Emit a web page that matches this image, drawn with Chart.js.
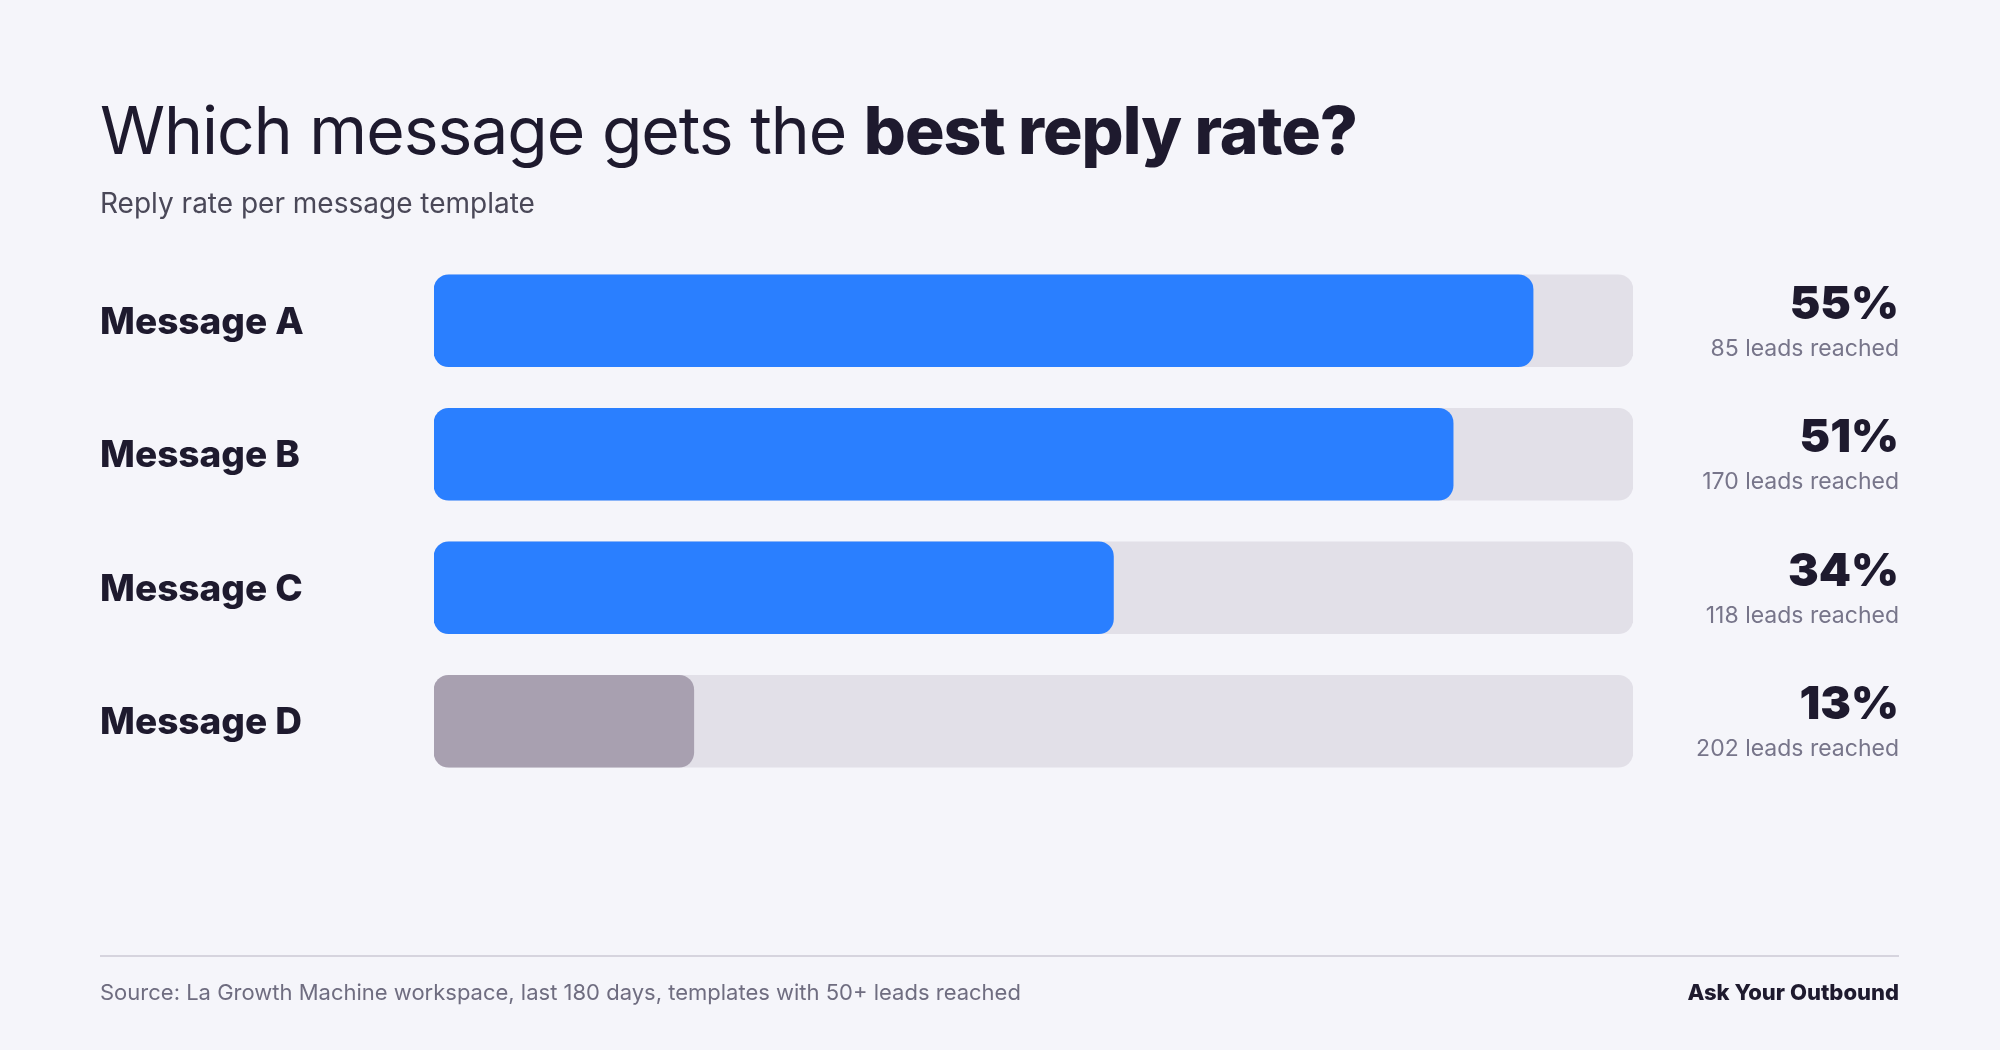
<!DOCTYPE html>
<html><head><meta charset="utf-8">
<script src="https://cdn.jsdelivr.net/npm/chart.js@4"></script>
<style>
html,body{margin:0;padding:0;background:#f5f5fa;width:2000px;height:1050px;overflow:hidden;font-family:Inter,"Noto Sans",sans-serif;color:#1e1a2e}
#wrap{position:absolute;left:0;top:0;width:2000px;height:1050px}
h1{position:absolute;left:100px;top:97px;margin:0;font-size:66px;font-weight:400;letter-spacing:-1px;line-height:1}
h1 b{font-weight:800}
.sub{position:absolute;left:100px;top:186px;font-size:28px;color:#4a4858}
.rule{position:absolute;left:100px;width:1799px;top:955px;height:2px;background:#d6d4de}
.src{position:absolute;left:100px;top:979px;font-size:22px;color:#6f6d80}
.brand{position:absolute;right:101px;top:979px;font-size:22px;font-weight:800}
</style></head><body>
<div id="wrap"><canvas id="c" width="2000" height="1050"></canvas></div>
<h1>Which message gets the <b>best reply rate?</b></h1>
<div class="sub">Reply rate per message template</div>
<div class="rule"></div>
<div class="src">Source: La Growth Machine workspace, last 180 days, templates with 50+ leads reached</div>
<div class="brand">Ask Your Outbound</div>
<script>
const categories=["Message A","Message B","Message C","Message D"];
const replyRates=[55,51,34,13];
const leadsReached=[85,170,118,202];
const trackMax=60;
const barColors=["#2a7fff","#2a7fff","#2a7fff","#a8a0b0"];

const sidePlugin={id:'side',afterDatasetsDraw(ch){
  const ctx=ch.ctx, y=ch.scales.y;
  ctx.save();
  categories.forEach((c,i)=>{
    const cy=y.getPixelForValue(i);
    ctx.fillStyle="#1e1a2e";ctx.textAlign="left";ctx.textBaseline="middle";
    ctx.font="800 37px Inter";
    ctx.fillText(c,100,cy+2);
    ctx.textAlign="right";ctx.textBaseline="alphabetic";
    ctx.font="900 46px Inter";
    ctx.fillText(replyRates[i]+"%",1899,cy-2);
    ctx.fillStyle="#77758a";ctx.font="400 23px Inter";
    ctx.fillText(leadsReached[i]+" leads reached",1899,cy+35);
  });
  ctx.restore();
}};

new Chart(document.getElementById('c'),{
  type:'bar',
  data:{labels:categories,datasets:[
    {data:replyRates,backgroundColor:barColors,borderRadius:15,borderSkipped:false,barThickness:92,grouped:false,order:1},
    {data:categories.map(()=>trackMax),backgroundColor:"#e2e0e8",borderRadius:15,borderSkipped:false,barThickness:92,grouped:false,order:2}
  ]},
  options:{indexAxis:'y',responsive:false,animation:false,
    layout:{padding:{left:434,right:367,top:254,bottom:262}},
    plugins:{legend:{display:false},tooltip:{enabled:false}},
    scales:{x:{display:false,min:0,max:trackMax},y:{display:false}}},
  plugins:[sidePlugin]
});
</script></body></html>
